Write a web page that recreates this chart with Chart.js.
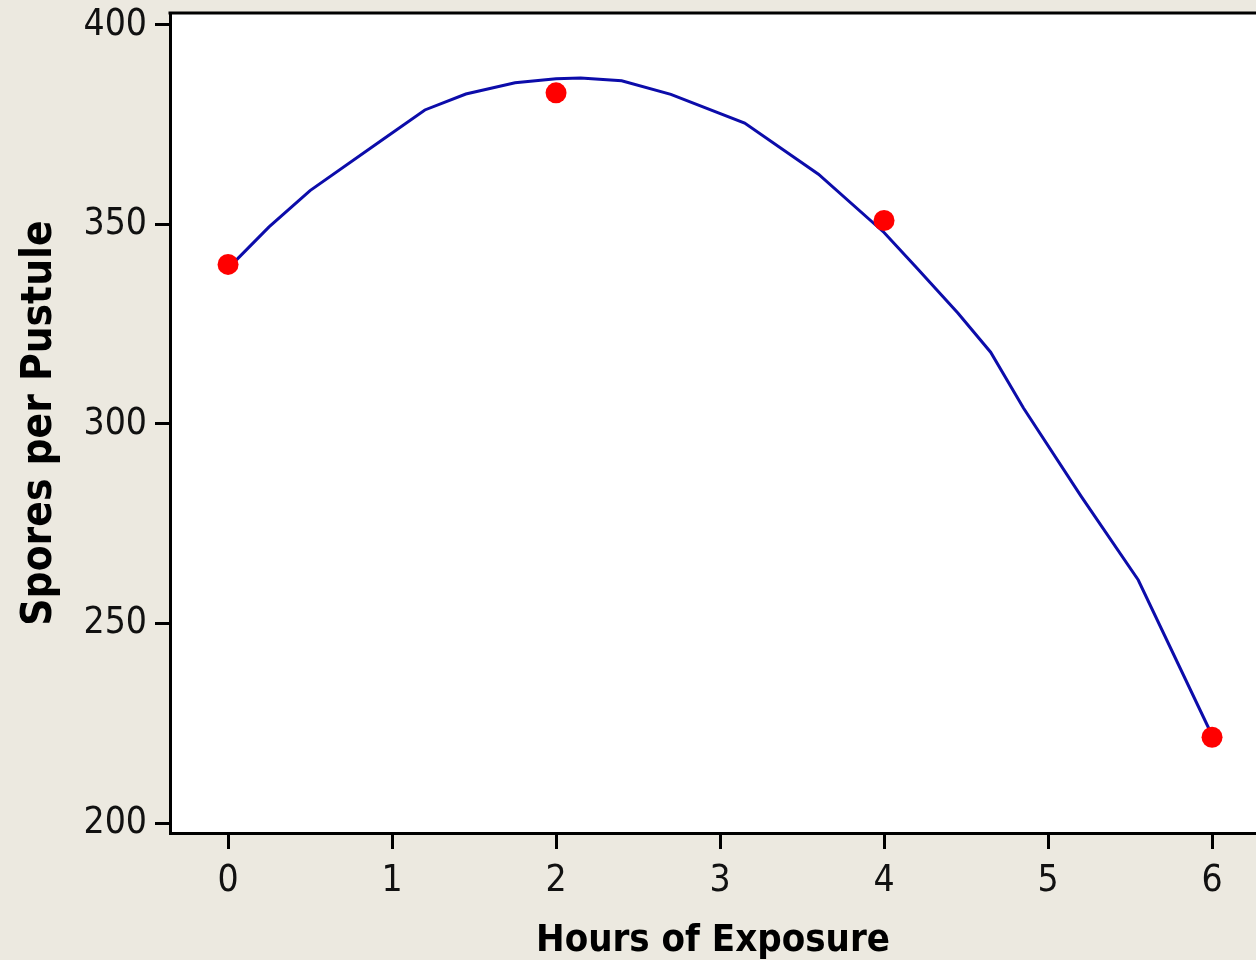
<!DOCTYPE html>
<html lang="en">
<head>
<meta charset="utf-8">
<title>Spores per Pustule</title>
<script src="https://cdn.jsdelivr.net/npm/chart.js@4"></script>
<style>
    html, body { margin: 0; padding: 0; background: #ECE9E0; overflow: hidden; }
    #chart { display: block; }
</style>
</head>
<body>
<canvas id="chart" width="1256" height="960"></canvas>
<script>
'use strict';

// observed points
const hours = [0, 2, 4, 6];
const spores = [340, 383, 351, 221.5];

// fitted curve
const fitHours = [0, 0.25, 0.5, 0.95, 1.2, 1.45, 1.75, 2.0, 2.15, 2.4, 2.7, 3.15, 3.6, 4.0, 4.2, 4.45, 4.65, 4.85, 5.2, 5.55, 6.0];
const fitSpores = [339, 349.4, 358.5, 371.5, 378.7, 382.7, 385.5, 386.5, 386.7, 386.0, 382.6, 375.4, 362.6, 348, 339.1, 327.8, 318, 304, 282, 260.9, 222];

// axis ticks
const xTicks = [0, 1, 2, 3, 4, 5, 6];
const yTicks = [200, 250, 300, 350, 400];

const TICK_FONT = { family: '"DejaVu Sans Condensed", "DejaVu Sans", sans-serif', size: 37 };
const TITLE_FONT = { family: '"DejaVu Sans Condensed", "DejaVu Sans", sans-serif', weight: 'bold' };

// white plot area + top frame line (no right edge visible)
const plotFrame = {
    id: 'plotFrame',
    beforeDraw(chart) {
        const { ctx, chartArea: a } = chart;
        ctx.save();
        ctx.fillStyle = '#ffffff';
        ctx.fillRect(a.left, a.top, a.right - a.left, a.bottom - a.top);
        ctx.restore();
    },
    afterDraw(chart) {
        const { ctx, chartArea: a } = chart;
        ctx.save();
        ctx.strokeStyle = '#000';
        ctx.lineWidth = 3;
        ctx.beginPath();
        ctx.moveTo(a.left - 1.5, a.top);
        ctx.lineTo(a.right, a.top);
        ctx.stroke();
        ctx.restore();
    }
};

// pin the scale boxes so the plot area lands where the original has it
const noPad = (scale) => {
    scale.paddingTop = 0;
    scale.paddingBottom = 0;
    scale.paddingLeft = 0;
    scale.paddingRight = 0;
};

const toXY = (xs, ys) => xs.map((x, i) => ({ x, y: ys[i] }));

new Chart(document.getElementById('chart').getContext('2d'), {
    type: 'scatter',
    data: {
        datasets: [
            {
                label: 'Fit',
                data: toXY(fitHours, fitSpores),
                showLine: true,
                borderColor: '#0C0CAA',
                borderWidth: 3,
                pointRadius: 0,
                tension: 0,
                order: 2
            },
            {
                label: 'Spores',
                data: toXY(hours, spores),
                backgroundColor: '#FF0000',
                borderWidth: 0,
                pointRadius: 10.5,
                order: 1
            }
        ]
    },
    options: {
        responsive: false,
        animation: false,
        layout: { autoPadding: false, padding: { top: 13, right: 0, left: 0, bottom: 0 } },
        plugins: { legend: { display: false }, tooltip: { enabled: false } },
        scales: {
            x: {
                type: 'linear',
                min: -0.354,
                max: 6.268,
                afterFit(scale) { scale.height = 127; noPad(scale); },
                afterBuildTicks(scale) { scale.ticks = xTicks.map(v => ({ value: v })); },
                border: { color: '#000', width: 3 },
                grid: { drawOnChartArea: false, drawTicks: true, tickLength: 16, tickWidth: 3, tickColor: '#000' },
                ticks: { color: '#111', font: TICK_FONT, padding: 10, maxRotation: 0 },
                title: {
                    display: true,
                    text: 'Hours of Exposure',
                    color: '#000',
                    font: { ...TITLE_FONT, size: 38, lineHeight: 1 },
                    padding: { top: 2, bottom: 0 }
                }
            },
            y: {
                type: 'linear',
                min: 197.5,
                max: 403,
                afterFit(scale) { scale.width = 170; noPad(scale); },
                afterBuildTicks(scale) { scale.ticks = yTicks.map(v => ({ value: v })); },
                border: { color: '#000', width: 3 },
                grid: { drawOnChartArea: false, drawTicks: true, tickLength: 15, tickWidth: 3, tickColor: '#000' },
                ticks: { color: '#111', font: TICK_FONT, padding: 8 },
                title: {
                    display: true,
                    text: 'Spores per Pustule',
                    color: '#000',
                    font: { ...TITLE_FONT, size: 42, lineHeight: 1 },
                    padding: { top: 19, bottom: 0 }
                }
            }
        }
    },
    plugins: [plotFrame]
});
</script>
</body>
</html>
